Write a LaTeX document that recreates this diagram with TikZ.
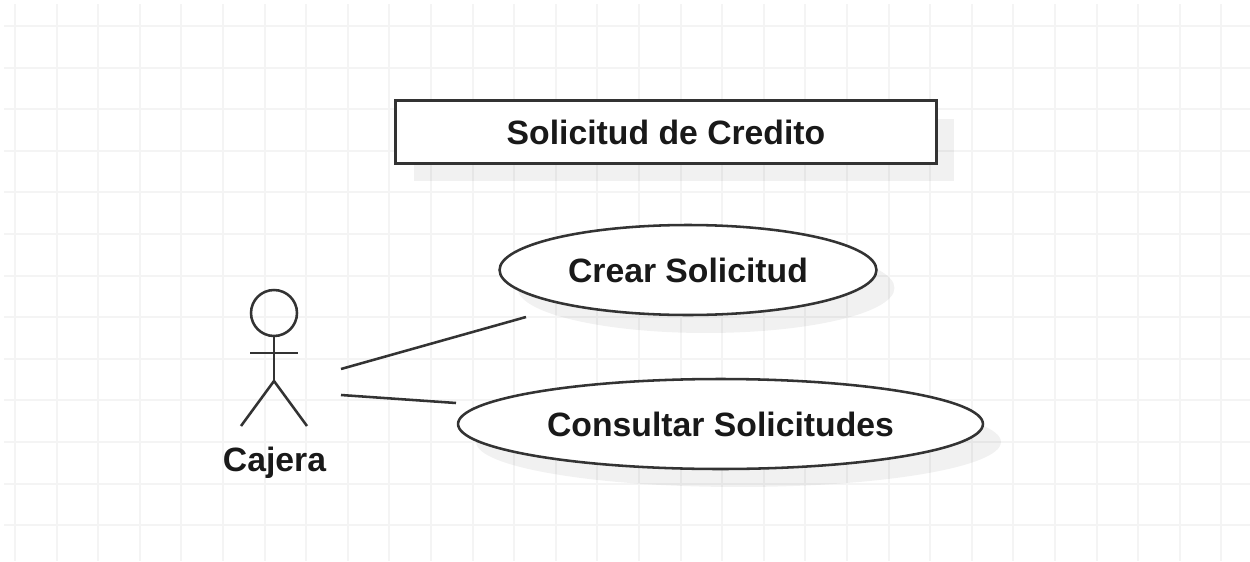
\documentclass[tikz,border=0pt]{standalone}
\usepackage{fontspec}
\setmainfont{Liberation Sans}
\usetikzlibrary{shapes.geometric,shadows}

\definecolor{gridgray}{HTML}{F4F4F4}
\definecolor{inkgray}{HTML}{333333}
\tikzset{
    px/.style={x=0.02cm,y=-0.02cm},
    gridline/.style={draw=gridgray,line width=1.1pt},
    umlline/.style={draw=inkgray,line width=1.45pt},
    umlshadow/.style={drop shadow={shadow xshift=0.36cm,shadow yshift=-0.36cm,fill=black,opacity=0.055}},
    umllabel/.style={font=\fontsize{19.2}{23}\selectfont\bfseries,text=black!90},
    titlebox/.style={rectangle,umlline,fill=white,umlshadow,umllabel,minimum width=10.82cm,minimum height=1.26cm,inner sep=0pt,outer sep=0pt},
    usecase/.style={ellipse,umlline,fill=white,umlshadow,umllabel,inner sep=0pt,outer sep=0pt,minimum height=1.8cm}
}

\begin{document}
\begin{tikzpicture}[px]
    \useasboundingbox (0,0) rectangle (1250,561);

    % grid
    \foreach \k in {0,...,29}
        \draw[gridline] ({15+41.6*\k},4) -- ({15+41.6*\k},561);
    \foreach \k in {0,...,12}
        \draw[gridline] (4,{26+41.6*\k}) -- (1250,{26+41.6*\k});

    \node[titlebox] (title) at (666,132) {Solicitud de Credito};
    \node[usecase,minimum width=7.54cm] (crear) at (688,270) {Crear Solicitud};
    \node[usecase,minimum width=10.5cm] (consultar) at (720.5,424) {Consultar Solicitudes};

    % actor
    \node[circle,umlline,minimum size=0.92cm,inner sep=0pt,outer sep=0pt] (head) at (274,313) {};
    \coordinate (hip) at (274,381);
    \coordinate (armL) at (250,353);
    \coordinate (armR) at (298,353);
    \coordinate (footL) at (241,426);
    \coordinate (footR) at (307,426);
    \draw[umlline] (head.south) -- (hip);
    \draw[umlline] (armL) -- (armR);
    \draw[umlline] (footL) -- (hip) -- (footR);
    \node[umllabel] (cajera) at (274.5,463) {Cajera};

    % associations
    \coordinate (fromA) at (341,369);
    \coordinate (toA) at (526,317);
    \coordinate (fromB) at (341,395);
    \coordinate (toB) at (456,403);
    \draw[umlline] (fromA) -- (toA);
    \draw[umlline] (fromB) -- (toB);
\end{tikzpicture}
\end{document}
